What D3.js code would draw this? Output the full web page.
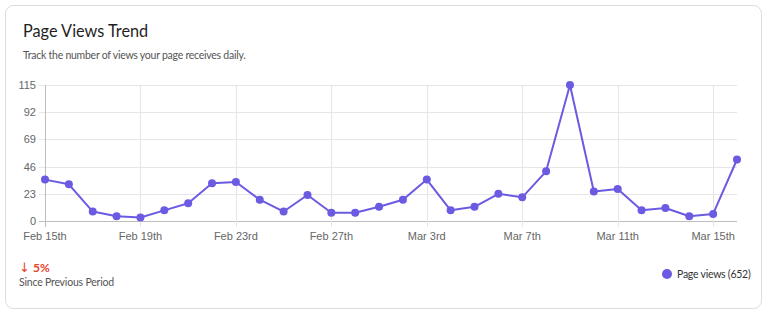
<!DOCTYPE html>
<html>
<head>
<meta charset="utf-8">
<script src="https://cdn.jsdelivr.net/npm/d3@7"></script>
<style>
  html, body { margin: 0; padding: 0; background: #fff; }
  #chart { width: 768px; height: 312px; }
</style>
</head>
<body>
<div id="chart"></div>
<script>
// daily page views, Feb 15th .. Mar 16th
var days = d3.range(30);
var views = [35, 31, 8, 4, 3, 9, 15, 32, 33, 18, 8, 22, 7, 7, 12, 18, 35, 9, 12, 23, 20, 42, 115, 25, 27, 9, 11, 4, 6, 52];
var yTicks = [0, 23, 46, 69, 92, 115];
var xTicks = [0, 4, 8, 12, 16, 20, 24, 28];
var xTickLabels = ["Feb 15th", "Feb 19th", "Feb 23rd", "Feb 27th", "Mar 3rd", "Mar 7th", "Mar 11th", "Mar 15th"];

var lineColor = "#6a5be2";
var axisFont = "'Liberation Sans', Arial, sans-serif";
var uiFont = "Lato, 'Noto Sans', sans-serif";

var svg = d3.select("#chart").append("svg")
            .attr("width", 768)
            .attr("height", 312);

// card
svg.append("rect")
   .attr("x", 5.5).attr("y", 5.5)
   .attr("width", 756).attr("height", 303)
   .attr("rx", 8)
   .attr("fill", "#fff")
   .attr("stroke", "#dcdcdc");

svg.append("text")
   .attr("x", 23).attr("y", 37)
   .attr("font-family", uiFont)
   .attr("font-size", 16.3)
   .attr("fill", "#1f1f1f")
   .text("Page Views Trend");

svg.append("text")
   .attr("x", 23).attr("y", 59)
   .attr("font-family", uiFont)
   .attr("font-size", 10.5)
   .attr("letter-spacing", -0.25)
   .attr("fill", "#555")
   .text("Track the number of views your page receives daily.");

var x = d3.scaleLinear().domain([0, 29]).range([45, 737]);
var y = d3.scaleLinear().domain([0, 115]).range([221, 85]);

// horizontal grid
svg.append("g").selectAll("line")
   .data(yTicks)
   .enter().append("line")
   .attr("x1", 39).attr("x2", 737)
   .attr("y1", function (d) { return Math.round(y(d)) + 0.5; })
   .attr("y2", function (d) { return Math.round(y(d)) + 0.5; })
   .attr("stroke", function (d) { return d === 0 ? "#bdbdbd" : "#e6e6e6"; });

// vertical grid
svg.append("g").selectAll("line")
   .data(xTicks)
   .enter().append("line")
   .attr("x1", function (d) { return Math.round(x(d)) + 0.5; })
   .attr("x2", function (d) { return Math.round(x(d)) + 0.5; })
   .attr("y1", 85).attr("y2", 227)
   .attr("stroke", function (d) { return d === 0 ? "#bdbdbd" : "#e6e6e6"; });

svg.append("g").selectAll("text")
   .data(yTicks)
   .enter().append("text")
   .attr("x", 36)
   .attr("y", function (d) { return y(d) + 4; })
   .attr("text-anchor", "end")
   .attr("font-family", axisFont)
   .attr("font-size", 11)
   .attr("fill", "#666")
   .text(function (d) { return d; });

svg.append("g").selectAll("text")
   .data(xTicks)
   .enter().append("text")
   .attr("x", function (d) { return x(d); })
   .attr("y", 240)
   .attr("text-anchor", "middle")
   .attr("font-family", axisFont)
   .attr("font-size", 11)
   .attr("fill", "#666")
   .text(function (d, i) { return xTickLabels[i]; });

var line = d3.line()
             .x(function (d) { return x(d); })
             .y(function (d) { return y(views[d]); });

svg.append("path")
   .datum(days)
   .attr("d", line)
   .attr("fill", "none")
   .attr("stroke", lineColor)
   .attr("stroke-width", 2)
   .attr("stroke-linejoin", "round");

svg.append("g").selectAll("circle")
   .data(days)
   .enter().append("circle")
   .attr("cx", function (d) { return x(d); })
   .attr("cy", function (d) { return y(views[d]); })
   .attr("r", 4)
   .style("fill", lineColor);

// footer
svg.append("text")
   .attr("x", 19).attr("y", 272)
   .attr("font-family", "'DejaVu Sans', sans-serif")
   .attr("font-size", 13)
   .attr("fill", "#e8412c")
   .text("\u2193");

svg.append("text")
   .attr("x", 33).attr("y", 272)
   .attr("font-family", uiFont)
   .attr("font-size", 12)
   .attr("font-weight", "bold")
   .attr("fill", "#e8412c")
   .text("5%");

svg.append("text")
   .attr("x", 19).attr("y", 286)
   .attr("font-family", uiFont)
   .attr("font-size", 10.5)
   .attr("letter-spacing", -0.2)
   .attr("fill", "#555")
   .text("Since Previous Period");

svg.append("circle")
   .attr("cx", 667).attr("cy", 274)
   .attr("r", 5)
   .style("fill", lineColor);

svg.append("text")
   .attr("x", 677).attr("y", 278)
   .attr("font-family", uiFont)
   .attr("font-size", 10.5)
   .attr("letter-spacing", -0.25)
   .attr("fill", "#333")
   .text("Page views (" + d3.sum(views) + ")");
</script>
</body>
</html>
